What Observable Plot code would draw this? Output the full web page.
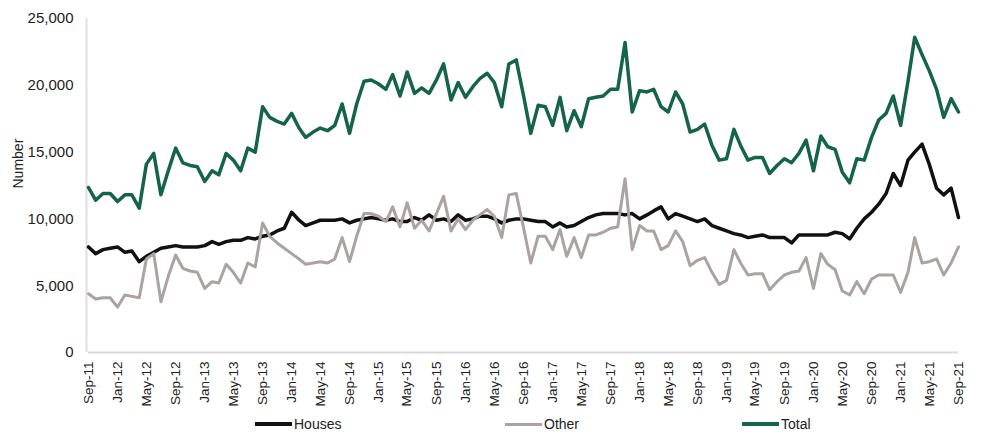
<!DOCTYPE html>
<html>
<head>
<meta charset="utf-8">
<script src="https://cdn.jsdelivr.net/npm/d3@7"></script>
<script src="https://cdn.jsdelivr.net/npm/@observablehq/plot@0.6"></script>
<style>
  html, body { margin: 0; padding: 0; background: #fff; }
  #wrap { position: relative; width: 988px; height: 438px; font-family: "Liberation Sans", Arial, sans-serif; }
  .leg { position: absolute; top: 414px; height: 20px; display: flex; align-items: center; font-size: 14px; color: #222; }
  .leg .sw { display: inline-block; width: 37px; margin-right: 2px; }
</style>
</head>
<body>
<div id="wrap"></div>
<script>
// Monthly series, Sep-11 .. Sep-21 (thousands)
const startYear = 2011, startMonth = 8; // September 2011
const houses = [
  7.9,7.4,7.7,7.8,7.9,7.5,7.6,6.8,7.2,7.5,
  7.8,7.9,8.0,7.9,7.9,7.9,8.0,8.3,8.1,8.3,
  8.4,8.4,8.6,8.5,8.7,8.8,9.1,9.3,10.5,9.9,
  9.5,9.7,9.9,9.9,9.9,10.0,9.7,9.9,10.0,10.1,
  10.0,9.9,10.0,9.8,9.8,10.1,9.9,10.3,9.9,10.0,
  9.8,10.3,9.9,10.0,10.2,10.2,10.0,9.7,9.9,10.0,
  10.0,9.9,9.8,9.8,9.4,9.7,9.4,9.5,9.8,10.1,
  10.3,10.4,10.4,10.4,10.3,10.4,10.0,10.3,10.6,10.9,
  10.0,10.4,10.2,10.0,9.8,10.0,9.5,9.3,9.1,8.9,
  8.8,8.6,8.7,8.8,8.6,8.6,8.6,8.2,8.8,8.8,
  8.8,8.8,8.8,9.0,8.9,8.5,9.3,10.0,10.5,11.1,
  11.9,13.4,12.5,14.4,15.0,15.6,14.1,12.3,11.8,12.3,
  10.1
];
const other = [
  4.4,4.0,4.1,4.1,3.4,4.3,4.2,4.1,7.0,7.4,
  3.8,5.7,7.3,6.3,6.1,6.0,4.8,5.3,5.2,6.6,
  6.0,5.2,6.7,6.4,9.7,8.7,8.2,7.8,7.4,7.0,
  6.6,6.7,6.8,6.7,7.0,8.6,6.8,8.7,10.4,10.4,
  10.2,9.8,10.9,9.4,11.2,9.3,9.9,9.1,10.4,11.7,
  9.1,10.0,9.2,9.9,10.3,10.7,10.2,8.6,11.8,11.9,
  9.3,6.7,8.7,8.7,7.7,9.2,7.2,8.6,7.1,8.8,
  8.8,9.0,9.3,9.4,13.0,7.7,9.5,9.1,9.1,7.7,
  8.0,9.1,8.3,6.5,6.9,7.1,6.0,5.1,5.4,7.7,
  6.7,5.8,5.9,5.9,4.7,5.3,5.8,6.0,6.1,7.1,
  4.8,7.4,6.6,6.2,4.6,4.3,5.3,4.4,5.5,5.8,
  5.8,5.8,4.5,6.0,8.6,6.7,6.8,7.0,5.8,6.7,
  7.9
];
const total = [
  12.35,11.4,11.9,11.9,11.3,11.8,11.8,10.8,14.1,14.9,
  11.8,13.6,15.3,14.2,14.0,13.9,12.8,13.6,13.3,14.9,
  14.4,13.6,15.3,15.0,18.4,17.6,17.3,17.1,17.9,16.8,
  16.1,16.5,16.8,16.6,17.0,18.6,16.4,18.6,20.3,20.4,
  20.1,19.7,20.8,19.2,21.0,19.4,19.8,19.4,20.4,21.6,
  18.9,20.2,19.1,19.9,20.5,20.9,20.2,18.4,21.6,21.9,
  19.2,16.4,18.5,18.4,17.0,19.1,16.6,18.1,16.9,19.0,
  19.1,19.2,19.7,19.7,23.2,18.0,19.6,19.5,19.7,18.4,
  18.0,19.5,18.6,16.5,16.7,17.1,15.5,14.4,14.5,16.7,
  15.5,14.4,14.6,14.6,13.4,14.0,14.5,14.2,14.9,15.9,
  13.6,16.2,15.4,15.2,13.5,12.7,14.5,14.4,16.1,17.4,
  17.9,19.2,17.0,20.3,23.6,22.3,21.1,19.7,17.6,19.0,
  18.0
];
const seriesNames = ["Houses", "Other", "Total"];
const seriesColors = ["#111111", "#aba3a1", "#14634a"];
const seriesWidths = [3.5, 3, 3.5];
const yTicks = [0, 5000, 10000, 15000, 20000, 25000];
const xTickEvery = 4;

const dates = houses.map((_, i) => new Date(Date.UTC(startYear, startMonth + i, 1)));
const rows = [];
[houses, other, total].forEach((arr, s) => {
  arr.forEach((v, i) => rows.push({series: seriesNames[s], date: dates[i], value: v * 1000}));
});
const xTicks = dates.filter((_, i) => i % xTickEvery === 0);
const fmt = d3.utcFormat("%b-%y");

const chart = Plot.plot({
  width: 988,
  height: 414,
  marginLeft: 88,
  marginRight: 30,
  marginTop: 18,
  marginBottom: 62,
  style: {fontFamily: '"Liberation Sans", Arial, sans-serif', fontSize: "14px", color: "#222", background: "#fff"},
  x: {type: "utc", domain: [dates[0], dates[dates.length - 1]]},
  y: {domain: [0, 25000]},
  marks: [
    Plot.ruleY([0], {stroke: "#d9d9d9", strokeWidth: 2}),
    Plot.ruleX([dates[0]], {y1: 0, y2: 25000, stroke: "#e0e0e0", strokeWidth: 2, dx: -2}),
    Plot.axisY({ticks: yTicks, tickSize: 0, tickPadding: 15, tickFormat: d3.format(","), label: null, fontSize: 15}),
    Plot.axisX({ticks: xTicks, tickSize: 0, tickPadding: 9, tickRotate: -90, tickFormat: fmt, label: null, fontSize: 13.5}),
    Plot.text(["Number"], {frameAnchor: "left", dx: -70, dy: 3, rotate: -90, fontSize: 14, fill: "#222"}),
    ...seriesNames.map((name, s) => Plot.lineY(rows.filter(r => r.series === name), {
      x: "date", y: "value", stroke: seriesColors[s], strokeWidth: seriesWidths[s], strokeLinejoin: "round"
    }))
  ]
});
const wrap = document.getElementById("wrap");
wrap.appendChild(chart);

const legendLeft = [255, 505, 742];
seriesNames.forEach((name, s) => {
  const d = document.createElement("div");
  d.className = "leg";
  d.style.left = legendLeft[s] + "px";
  d.innerHTML = `<span class="sw" style="background:${seriesColors[s]}; height:${seriesWidths[s]}px"></span><span>${name}</span>`;
  wrap.appendChild(d);
});
</script>
</body>
</html>
